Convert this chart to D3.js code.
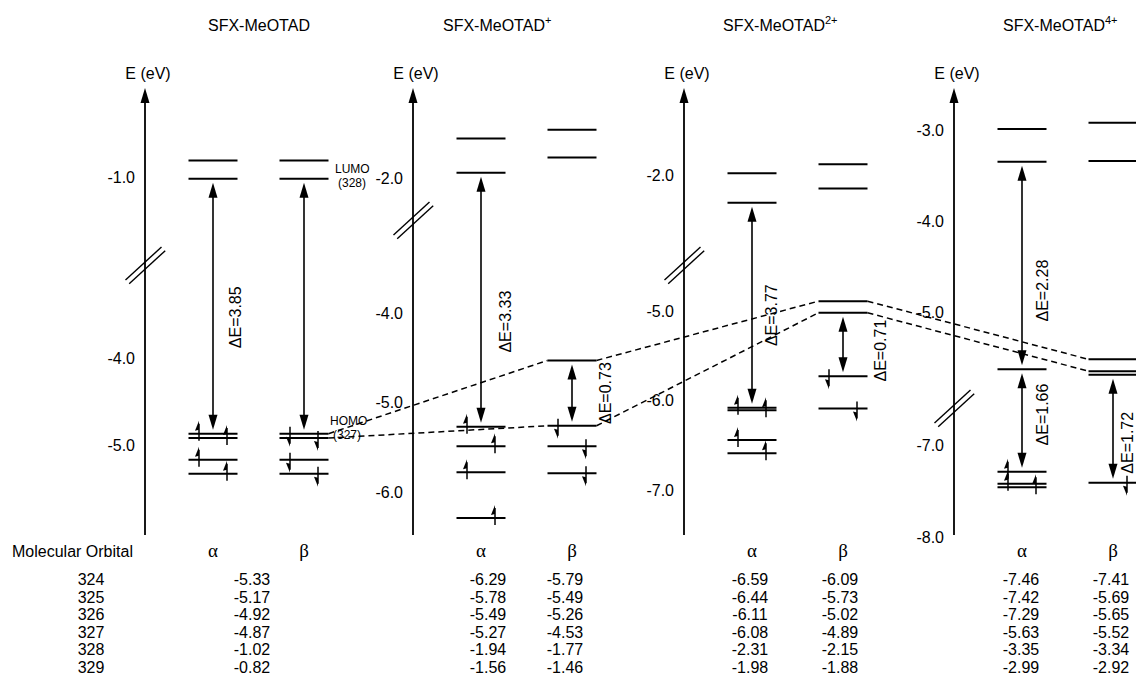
<!DOCTYPE html>
<html>
<head>
<meta charset="utf-8">
<script src="https://cdn.jsdelivr.net/npm/d3@7"></script>
<style>
  html, body { margin: 0; padding: 0; background: #fff; }
  svg { display: block; font-family: "Liberation Sans", Arial, sans-serif; }
  .serif { font-family: "Liberation Serif", "Times New Roman", serif; }
</style>
</head>
<body>
<div id="chart"></div>
<script>
// Orbital energies (eV), orbitals 324..329
const orbitals      = [324, 325, 326, 327, 328, 329];
const neutralE      = [-5.33, -5.17, -4.92, -4.87, -1.02, -0.82];
const cationAlpha   = [-6.29, -5.78, -5.49, -5.27, -1.94, -1.56];
const cationBeta    = [-5.79, -5.49, -5.26, -4.53, -1.77, -1.46];
const dicationAlpha = [-6.59, -6.44, -6.11, -6.08, -2.31, -1.98];
const dicationBeta  = [-6.09, -5.73, -5.02, -4.89, -2.15, -1.88];
const tetraAlpha    = [-7.46, -7.42, -7.29, -5.63, -3.35, -2.99];
const tetraBeta     = [-7.41, -5.69, -5.65, -5.52, -3.34, -2.92];

const speciesNames = ['SFX-MeOTAD', 'SFX-MeOTAD', 'SFX-MeOTAD', 'SFX-MeOTAD'];
const charges      = ['', '+', '2+', '4+'];
// occupied orbitals (counted from 324) per spin
const occAlpha = [4, 4, 4, 3];
const occBeta  = [4, 3, 2, 1];
const tickVals = [[-1.0, -4.0, -5.0], [-2.0, -4.0, -5.0, -6.0], [-2.0, -5.0, -6.0, -7.0], [-3.0, -4.0, -5.0, -7.0, -8.0]];
// gaps: [panel, spin, upper orbital idx, lower orbital idx, labelled]
const gaps = [[0,'a',4,3,true],[0,'b',4,3,false],[1,'a',4,3,true],[1,'b',3,2,true],
              [2,'a',4,3,true],[2,'b',2,1,true],[3,'a',4,3,true],[3,'a',3,2,true],[3,'b',1,0,true]];

// — layout ————————————————————————————————————————————
const W = 1136, H = 678;
const AX_TOP = 88, AX_BOT = 535;
const panelX = [145, 413, 684, 954];
const ALPHA_DX = 68, BETA_DX = 159, HALF = 24.5;
const anchors = [
  { up: [-1.0, 177, 91],   lo: [-4.0, 358, 87],   brk: 265 },
  { up: [-2.0, 178, 89.5], lo: [-4.0, 313, 89.5], brk: 220 },
  { up: [-2.0, 175, 89.5], lo: [-5.0, 311, 89.5], brk: 265 },
  { up: [-3.0, 130, 91],   lo: [-7.0, 445, 92],   brk: 408 },
];
const titleX = [208, 443, 723, 1003];
const elecSide = [
  { a: [1, -1, 1, -1], b: [1, -1, 1, -1] },
  { a: [1, -1, 1, -1], b: [1, 1, -1] },
  { a: [1, -1, 1, -1], b: [1, -1] },
  { a: [1, -1, -1],    b: [1] },
];
const gapLabel = [[22, 11], null, [24, 22], [33, 0], [19, 10], [37, 6], [20, 25], [20, -6], [14, 14]];
const tableCols = [[252], [488, 565], [750, 840], [1021, 1111]];

const panels = [
  { alpha: neutralE,      beta: neutralE },
  { alpha: cationAlpha,   beta: cationBeta },
  { alpha: dicationAlpha, beta: dicationBeta },
  { alpha: tetraAlpha,    beta: tetraBeta },
];

const svg = d3.select('#chart').append('svg')
  .attr('width', W).attr('height', H).attr('viewBox', `0 0 ${W} ${H}`);

// broken axis → piecewise linear scale
function makeScale(a) {
  const vAt = (s, y) => s[0] - (y - s[1]) / s[2];
  return d3.scaleLinear()
    .domain([vAt(a.up, AX_TOP), vAt(a.up, a.brk), vAt(a.lo, a.brk), vAt(a.lo, AX_BOT)])
    .range([AX_TOP, a.brk, a.brk, AX_BOT]);
}
const scales = anchors.map(makeScale);

const colX = (p, spin) => panelX[p] + (spin === 'a' ? ALPHA_DX : BETA_DX);

panels.forEach((pd, p) => {
  const y = scales[p];
  const ax = panelX[p];
  const g = svg.append('g');

  // title
  const t = g.append('text').attr('x', titleX[p]).attr('y', 31)
    .attr('font-size', 16).text(speciesNames[p]);
  if (charges[p]) t.append('tspan').attr('font-size', 11).attr('dy', -7).text(charges[p]);

  // axis
  g.append('text').attr('x', ax + 3).attr('y', 79).attr('text-anchor', 'middle')
    .attr('font-size', 16).text('E (eV)');
  g.append('line').attr('x1', ax).attr('x2', ax).attr('y1', AX_TOP + 10).attr('y2', AX_BOT)
    .attr('stroke', '#000').attr('stroke-width', 1.8);
  g.append('path').attr('d', `M${ax},${AX_TOP}L${ax - 4.5},${AX_TOP + 15}L${ax + 4.5},${AX_TOP + 15}Z`)
    .attr('fill', '#000');

  const axis = d3.axisLeft(y).tickValues(tickVals[p]).tickSize(0).tickPadding(10)
    .tickFormat(d => d.toFixed(1));
  const ag = g.append('g').attr('transform', `translate(${ax},0)`).call(axis);
  ag.select('.domain').remove();
  ag.selectAll('text').attr('font-size', 16).attr('font-family', null);

  // break marks
  const bk = anchors[p].brk;
  [[-1.5, -1.5], [2.2, 2.2]].forEach(([dx, dy]) => {
    g.append('line')
      .attr('x1', ax + dx - 18).attr('y1', bk + dy + 16.5)
      .attr('x2', ax + dx + 18).attr('y2', bk + dy - 16.5)
      .attr('stroke', '#000').attr('stroke-width', 1.4);
  });

  // levels + electrons
  [['a', pd.alpha, occAlpha[p]], ['b', pd.beta, occBeta[p]]].forEach(([spin, vals, occ]) => {
    const cx = colX(p, spin);
    g.selectAll(null).data(vals).join('line')
      .attr('x1', cx - HALF).attr('x2', cx + HALF)
      .attr('y1', d => y(d)).attr('y2', d => y(d))
      .attr('stroke', '#000').attr('stroke-width', 2);

    const sides = elecSide[p][spin];
    vals.slice(0, occ).forEach((e, i) => {
      const ex = cx + 14 * sides[i];
      const ey = y(e);
      if (spin === 'a') {
        g.append('line').attr('x1', ex).attr('x2', ex).attr('y1', ey + 7).attr('y2', ey - 10)
          .attr('stroke', '#000').attr('stroke-width', 1.5);
        g.append('path').attr('d', `M${ex},${ey - 13}L${ex - 4},${ey - 3}L${ex},${ey - 4}Z`).attr('fill', '#000');
      } else {
        g.append('line').attr('x1', ex).attr('x2', ex).attr('y1', ey - 7).attr('y2', ey + 10)
          .attr('stroke', '#000').attr('stroke-width', 1.5);
        g.append('path').attr('d', `M${ex},${ey + 13}L${ex - 4},${ey + 3}L${ex},${ey + 4}Z`).attr('fill', '#000');
      }
    });
  });

  // table column headers
  g.append('text').attr('class', 'serif').attr('x', colX(p, 'a')).attr('y', 557)
    .attr('text-anchor', 'middle').attr('font-size', 19).text('α');
  g.append('text').attr('class', 'serif').attr('x', colX(p, 'b')).attr('y', 557)
    .attr('text-anchor', 'middle').attr('font-size', 19).text('β');

  // table values
  const cols = p === 0 ? [pd.alpha] : [pd.alpha, pd.beta];
  cols.forEach((vals, c) => {
    g.selectAll(null).data(vals).join('text')
      .attr('x', tableCols[p][c]).attr('y', (d, i) => 585 + i * 17.6)
      .attr('text-anchor', 'middle').attr('font-size', 16)
      .text(d => d.toFixed(2));
  });
});

// ΔE arrows
gaps.forEach(([p, spin, hi, lo, lab], k) => {
  const vals = spin === 'a' ? panels[p].alpha : panels[p].beta;
  const x = colX(p, spin);
  const y1 = scales[p](vals[hi]) + 4, y2 = scales[p](vals[lo]) - 4;
  svg.append('line').attr('x1', x).attr('x2', x).attr('y1', y1 + 10).attr('y2', y2 - 10)
    .attr('stroke', '#000').attr('stroke-width', 1.6);
  svg.append('path').attr('d', `M${x},${y1}L${x - 4.5},${y1 + 15}L${x + 4.5},${y1 + 15}Z`).attr('fill', '#000');
  svg.append('path').attr('d', `M${x},${y2}L${x - 4.5},${y2 - 15}L${x + 4.5},${y2 - 15}Z`).attr('fill', '#000');
  if (lab) {
    const [dx, dy] = gapLabel[k];
    const ly = (y1 + y2) / 2 + dy;
    svg.append('text').attr('transform', `translate(${x + dx},${ly}) rotate(-90)`)
      .attr('text-anchor', 'middle').attr('dy', '0.35em').attr('font-size', 16)
      .text('ΔE=' + (vals[hi] - vals[lo]).toFixed(2));
  }
});

// dashed links between β orbitals 327 and 326
[3, 2].forEach(j => {
  for (let p = 0; p < 3; p++) {
    svg.append('line')
      .attr('x1', colX(p, 'b') + HALF).attr('y1', scales[p](panels[p].beta[j]))
      .attr('x2', colX(p + 1, 'b') - HALF).attr('y2', scales[p + 1](panels[p + 1].beta[j]))
      .attr('stroke', '#000').attr('stroke-width', 1.5).attr('stroke-dasharray', '6,4');
  }
});

// HOMO / LUMO annotations
const ann = svg.append('g').attr('font-size', 12);
ann.append('text').attr('x', 335).attr('y', 173).text('LUMO');
ann.append('text').attr('x', 338).attr('y', 187).text(`(${orbitals[4]})`);
ann.append('text').attr('x', 330).attr('y', 425).text('HOMO');
ann.append('text').attr('x', 333).attr('y', 439).text(`(${orbitals[3]})`);

// table row labels
svg.append('text').attr('x', 12).attr('y', 557).attr('font-size', 16).text('Molecular Orbital');
svg.selectAll(null).data(orbitals).join('text')
  .attr('x', 91).attr('y', (d, i) => 585 + i * 17.6)
  .attr('text-anchor', 'middle').attr('font-size', 16).text(d => d);
</script>
</body>
</html>
